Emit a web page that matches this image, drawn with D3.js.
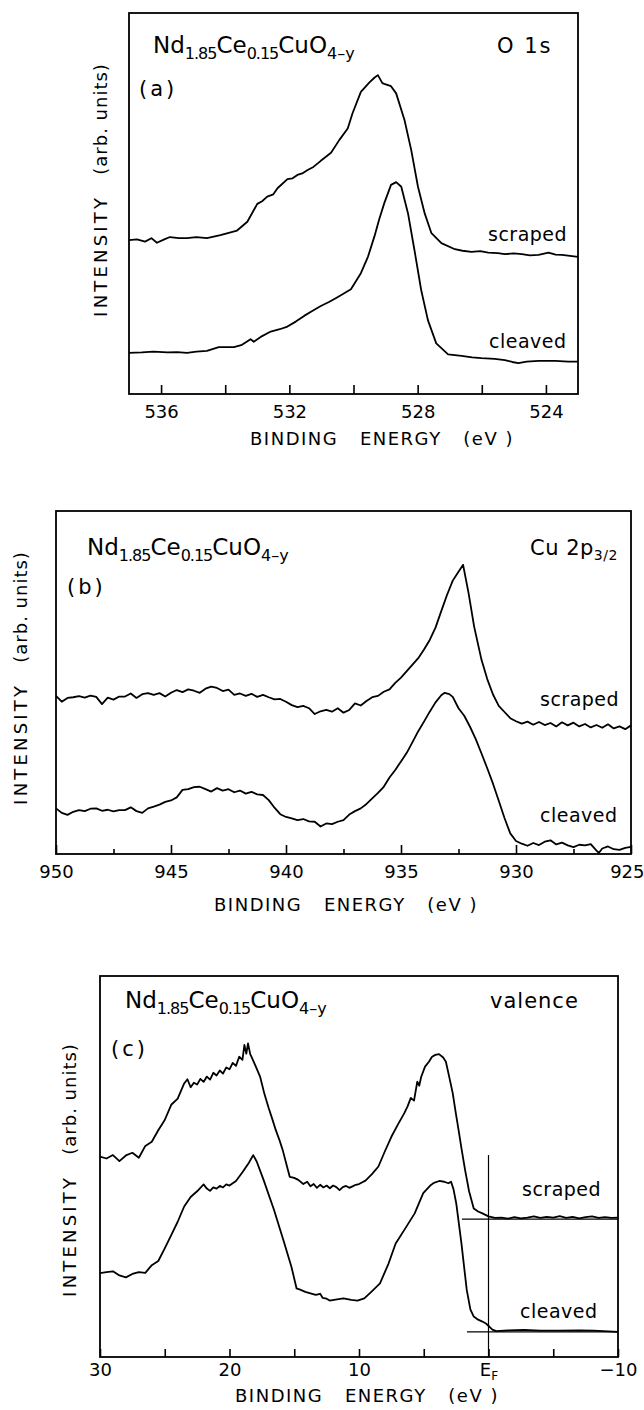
<!DOCTYPE html>
<html><head><meta charset="utf-8">
<script src="https://cdn.jsdelivr.net/npm/d3@7"></script>
<style>
body{margin:0;background:#fff}
text{font-family:"DejaVu Sans",sans-serif;fill:#000}
</style>
</head><body>
<svg id="chart" width="644" height="1410"></svg>
<script>
// ---------- DATA (binding energy eV, intensity arb. units) ----------
const aScraped = [[537,40.4],[536.75,40.6],[536.5,40.0],[536.3,40.9],[536.13,39.7],[535.9,40.6],[535.72,41.2],[535.45,40.9],[535.19,40.9],[534.9,41.2],[534.57,40.9],[534.15,41.7],[533.63,42.9],[533.31,45.2],[533.0,49.9],[532.85,50.6],[532.69,51.8],[532.5,52.4],[532.37,54.0],[532.06,56.4],[531.9,56.6],[531.75,57.5],[531.6,57.9],[531.43,58.8],[531.25,59.6],[531.02,61.2],[530.7,63.3],[530.44,66.7],[530.18,69.7],[530.03,73.7],[529.77,79.3],[529.51,81.7],[529.35,83.0],[529.24,83.7],[529.1,81.6],[529.04,81.4],[528.83,80.8],[528.67,78.9],[528.41,71.9],[528.2,64.0],[527.99,54.4],[527.78,47.4],[527.57,42.2],[527.26,39.6],[526.84,38.0],[526.6,37.6],[526.32,37.3],[526.05,37.5],[525.8,37.1],[525.5,37.0],[525.28,36.7],[525.0,36.9],[524.75,36.7],[524.5,36.4],[524.23,36.5],[523.92,37.1],[523.7,36.6],[523.5,36.5],[523.0,36.0]];
const aCleaved = [[537,10.8],[536.6,10.9],[536.24,11.1],[535.8,10.9],[535.5,11.0],[535.19,10.8],[534.9,11.1],[534.57,11.3],[534.2,12.3],[533.73,12.3],[533.5,12.8],[533.21,14.4],[533.11,13.7],[532.85,15.2],[532.58,16.4],[532.3,17.0],[532.06,17.7],[531.8,19.0],[531.54,20.5],[531.3,21.7],[531.02,23.1],[530.75,24.2],[530.5,25.4],[530.08,27.5],[529.77,31.7],[529.55,36.0],[529.35,41.3],[529.2,45.8],[529.04,50.1],[528.83,54.9],[528.67,55.6],[528.51,54.4],[528.3,47.4],[528.1,37.8],[527.89,27.3],[527.68,19.4],[527.42,13.3],[527.05,10.4],[526.63,10.0],[526.3,9.6],[526.01,9.4],[525.6,9.2],[525.28,8.9],[525.05,8.4],[524.86,8.1],[524.6,8.5],[524.23,8.7],[523.71,8.7],[523.3,8.5],[523.0,8.5]];

const bScraped = [[950,46.1],[949.75,44.4],[949.5,45.5],[949.25,45.7],[949,46.0],[948.75,45.6],[948.5,46.2],[948.25,45.8],[948,43.7],[947.75,45.6],[947.5,45.0],[947.25,45.9],[947,45.9],[946.75,46.8],[946.5,45.5],[946.25,46.6],[946,46.9],[945.75,46.4],[945.5,46.9],[945.25,45.9],[945,47.0],[944.75,47.8],[944.5,47.2],[944.25,48.0],[944,47.6],[943.75,47.0],[943.5,48.2],[943.25,48.8],[943,48.4],[942.75,47.5],[942.5,47.9],[942.25,46.4],[942,46.8],[941.75,46.1],[941.5,46.7],[941.25,45.8],[941,46.4],[940.75,45.7],[940.5,45.1],[940.25,45.2],[940,44.4],[939.75,43.4],[939.5,42.8],[939.25,43.2],[939,42.5],[938.75,40.8],[938.5,41.6],[938.25,42.0],[938,41.5],[937.75,42.5],[937.5,41.2],[937.25,42.0],[937,43.9],[936.75,43.3],[936.5,44.6],[936.25,45.7],[936,46.1],[935.75,47.3],[935.5,48.0],[935.25,49.9],[935,51.4],[934.75,53.3],[934.5,55.2],[934.25,57.1],[934,59.6],[933.75,62.4],[933.5,66.0],[933.25,70.8],[933,75.5],[932.75,79.7],[932.5,82.3],[932.3,84.3],[932.06,76.0],[931.82,66.3],[931.5,56.6],[931.25,51.0],[931,46.5],[930.75,43.2],[930.5,41.4],[930.25,39.6],[930,38.7],[929.75,38.0],[929.5,38.6],[929.25,37.7],[929,38.5],[928.75,37.6],[928.5,38.2],[928.25,37.2],[928,38.4],[927.75,37.5],[927.5,38.3],[927.25,37.2],[927,37.9],[926.75,36.9],[926.5,37.6],[926.25,36.8],[926,37.8],[925.75,36.6],[925.5,37.2],[925.25,36.4],[925,37.5]];
const bCleaved = [[950,13.3],[949.75,12.0],[949.5,11.4],[949.25,12.3],[949,12.8],[948.75,12.5],[948.5,13.2],[948.25,13.3],[948,12.6],[947.75,12.9],[947.5,12.4],[947.25,12.8],[947,12.8],[946.75,13.6],[946.5,12.5],[946.25,12.0],[946,13.3],[945.75,13.8],[945.5,14.4],[945.25,15.2],[945,15.6],[944.75,16.5],[944.5,18.7],[944.25,18.9],[944,19.5],[943.75,19.6],[943.5,18.9],[943.25,18.2],[943,19.2],[942.75,18.5],[942.5,18.9],[942.25,18.0],[942,18.5],[941.75,17.6],[941.5,18.1],[941.25,17.4],[941,17.2],[940.75,15.7],[940.5,13.5],[940.25,11.6],[940,10.8],[939.75,10.4],[939.5,9.9],[939.25,10.2],[939,9.5],[938.75,9.4],[938.5,8.0],[938.25,8.9],[938,8.7],[937.75,9.4],[937.5,9.9],[937.25,11.5],[937,12.5],[936.75,13.3],[936.5,14.6],[936.25,16.2],[936,17.8],[935.75,19.6],[935.5,22.3],[935.25,24.5],[935,27.0],[934.75,29.5],[934.5,32.6],[934.25,35.8],[934,38.6],[933.75,41.5],[933.5,44.2],[933.25,46.3],[933.1,47.0],[932.9,46.6],[932.75,45.8],[932.5,42.5],[932.25,40.3],[932,37.1],[931.75,33.5],[931.5,29.3],[931.25,25.0],[931,20.5],[930.75,15.5],[930.5,10.5],[930.25,6.0],[930,3.8],[929.75,3.0],[929.5,2.4],[929.25,3.2],[929,2.6],[928.75,3.6],[928.5,4.0],[928.25,2.8],[928,3.3],[927.75,2.5],[927.5,2.0],[927.25,2.7],[927,2.5],[926.75,2.9],[926.5,1.0],[926.4,0.3],[926.25,1.6],[926,2.2],[925.75,1.4],[925.5,1.2],[925.25,1.8],[925,2.1]];

const cScraped = [[30,52.6],[29.5,52.1],[29,53.0],[28.5,51.4],[28,52.9],[27.5,53.6],[27,52.3],[26.5,55.4],[26,56.5],[25.5,59.5],[25,62.2],[24.5,66.2],[24,67.8],[23.5,71.8],[23.25,72.9],[23,70.8],[22.75,72.0],[22.5,71.5],[22.25,73.0],[22,72.2],[21.75,73.6],[21.5,72.8],[21.25,74.6],[21,73.9],[20.75,75.2],[20.5,74.4],[20.25,76.0],[20,75.5],[19.75,77.2],[19.5,76.4],[19.25,78.8],[19,78.0],[18.85,81.9],[18.7,79.6],[18.57,82.3],[18.4,79.5],[18.3,78.8],[18,76.5],[17.64,73.6],[17.3,69.0],[16.97,65.3],[16.7,62.5],[16.43,59.6],[16.15,57.0],[15.89,54.3],[15.6,50.5],[15.35,47.3],[15,47.0],[14.69,46.5],[14.3,45.4],[14,46.0],[13.75,44.8],[13.5,45.4],[13.25,44.4],[13,45.2],[12.75,44.5],[12.5,45.0],[12.25,44.3],[12,45.0],[11.75,44.6],[11.5,43.8],[11.25,44.6],[11,44.9],[10.75,44.4],[10.5,44.8],[10.25,45.2],[10,45.4],[9.5,46.3],[9,48.0],[8.5,50.0],[8,54.0],[7.5,57.8],[7,61.0],[6.5,64.0],[6.25,65.8],[6,68.0],[5.75,67.3],[5.5,72.3],[5.35,71.2],[5.2,73.5],[4.9,76.2],[4.6,77.5],[4.36,78.8],[4.1,79.3],[3.82,79.5],[3.5,78.6],[3.29,77.5],[3,73.0],[2.76,69.2],[2.5,63.5],[2.35,60.4],[2.1,55.0],[1.81,49.1],[1.5,43.5],[1.14,39.0],[0.8,38.2],[0.47,37.7],[0,36.9],[-0.5,36.5],[-1,36.6],[-1.5,36.3],[-2,36.7],[-2.5,36.4],[-3,36.6],[-3.5,36.9],[-4,36.5],[-4.5,36.8],[-5,36.6],[-5.5,37.0],[-6,36.5],[-6.5,36.8],[-7,36.4],[-7.5,36.7],[-8,36.9],[-8.5,36.5],[-9,36.7],[-9.5,36.5],[-10,36.6]];
const cCleaved = [[30,22.0],[29.5,22.3],[29,22.5],[28.5,21.4],[28,20.9],[27.5,21.8],[27,22.3],[26.5,22.1],[26,24.1],[25.5,25.2],[25,28.5],[24.5,32.0],[24,35.5],[23.5,39.5],[23,42.0],[22.5,43.5],[22,45.3],[21.75,44.2],[21.5,43.6],[21.25,44.5],[21,44.2],[20.75,44.9],[20.5,44.5],[20.25,45.3],[20,45.0],[19.5,46.2],[19,48.5],[18.5,51.0],[18.17,53.0],[17.9,51.3],[17.37,46.5],[16.56,38.6],[15.76,29.8],[15.22,23.7],[14.82,18.0],[14.5,17.6],[14.15,17.1],[13.75,16.7],[13.34,16.3],[13,16.6],[12.8,15.5],[12.5,15.3],[12.27,14.8],[11.7,15.1],[11.2,15.4],[10.6,15.0],[10.12,14.8],[9.59,15.4],[9.05,17.1],[8.38,19.3],[7.71,24.6],[7.17,29.8],[6.51,33.3],[5.7,37.7],[5.04,43.0],[4.5,45.0],[4.22,45.7],[3.8,46.2],[3.42,46.0],[3.1,45.6],[2.89,46.0],[2.7,44.0],[2.49,40.3],[2.09,29.8],[1.68,17.6],[1.4,12.5],[1.14,10.6],[0.8,9.8],[0.47,9.3],[0.2,8.8],[-0.06,8.0],[-0.3,7.2],[-0.6,6.8],[-1.5,7.0],[-2.74,7.1],[-4,6.9],[-5.42,6.9],[-7,7.0],[-8.11,6.9],[-10,6.6]];

// reference lines in panel (c): Fermi level and baselines
const cFermi = {e:0, top:53};
const cBaselines = [{from:2.05, to:-10, v:36.2},{from:1.66, to:-10, v:6.6}];

// ticks
const aMajor = [536,532,528,524], aMinor = [534,530,526];
const bMajor = [950,945,940,935,930,925], bMinor = [947.5,942.5,937.5,932.5,927.5];
const cMajor = [30,20,10,0,-10], cMinor = [25,15,5,-5];

// ---------- DRAW ----------
const svg = d3.select('#chart');

function panel(cfg){
  const g = svg.append('g');
  const x = d3.scaleLinear().domain(cfg.xd).range([cfg.l, cfg.r]);
  const y = d3.scaleLinear().domain([0,100]).range([cfg.b, cfg.t]);
  const axm = g.append('g').attr('transform',`translate(0,${cfg.b})`)
    .call(d3.axisBottom(x).tickValues(cfg.minor).tickSize(-cfg.minLen).tickFormat(''));
  const axM = g.append('g').attr('transform',`translate(0,${cfg.b})`)
    .call(d3.axisBottom(x).tickValues(cfg.major).tickSize(-cfg.majLen).tickPadding(cfg.pad).tickFormat(cfg.fmt||d3.format('d')));
  [axm,axM].forEach(a=>{
    a.select('.domain').remove();
    a.selectAll('line').attr('stroke','#000').attr('stroke-width',1.6);
    a.attr('font-family',null).attr('font-size',null);
    a.selectAll('text').style('font-size','18px').attr('fill','#000');
  });
  if(cfg.after) cfg.after(axM);
  g.append('rect').attr('x',cfg.l).attr('y',cfg.t).attr('width',cfg.r-cfg.l).attr('height',cfg.b-cfg.t)
    .attr('fill','none').attr('stroke','#000').attr('stroke-width',1.8);
  const line = d3.line().x(d=>x(d[0])).y(d=>y(d[1]));
  cfg.series.forEach(s=>{
    g.append('path').datum(s).attr('d',line).attr('fill','none').attr('stroke','#000')
      .attr('stroke-width',1.8).attr('stroke-linejoin','round');
  });
  g.append('text').attr('x',cfg.tx).attr('y',cfg.ty).attr('text-anchor','middle')
    .style('white-space','pre').style('font-size','18px').style('letter-spacing','1.5px')
    .text('BINDING   ENERGY   (eV )');
  const yt = g.append('text').attr('transform',`translate(${cfg.yx},${cfg.yy}) rotate(-90)`)
    .attr('text-anchor','middle').attr('dy','0.35em').style('font-size','18px');
  yt.append('tspan').style('letter-spacing','3.2px').text('INTENSITY');
  yt.append('tspan').attr('dx',20).style('letter-spacing','1px').text('(arb. units)');
  const f = g.append('text').attr('x',cfg.fx).attr('y',cfg.fy).style('font-size','23px');
  f.append('tspan').text('Nd');
  f.append('tspan').attr('dy',6).style('font-size','16px').style('letter-spacing','-1px').text('1.85');
  f.append('tspan').attr('dy',-6).text('Ce');
  f.append('tspan').attr('dy',6).style('font-size','16px').style('letter-spacing','-1px').text('0.15');
  f.append('tspan').attr('dy',-6).text('CuO');
  f.append('tspan').attr('dy',6).style('font-size','16px').text('4–y');
  g.append('text').attr('x',cfg.px).attr('y',cfg.py).style('font-size','21px').style('letter-spacing','3px').text(cfg.letter);
  g.append('text').attr('x',cfg.sx).attr('y',cfg.sy).style('font-size','19px').style('letter-spacing','0.5px').text('scraped');
  g.append('text').attr('x',cfg.cx).attr('y',cfg.cy).style('font-size','19px').style('letter-spacing','0.5px').text('cleaved');
  return {g,x,y};
}

// (a)
const pa = panel({l:129,r:578,t:13,b:394,xd:[537,523],major:aMajor,minor:aMinor,majLen:9,minLen:9,pad:11,
  series:[aScraped,aCleaved],tx:382,ty:445,yx:101,yy:190,fx:153,fy:53,px:139,py:96,letter:'(a)',
  sx:488,sy:241,cx:489,cy:348});
pa.g.append('text').attr('x',497).attr('y',53).style('font-size','21px').style('letter-spacing','2px').text('O 1s');

// (b)
const pb = panel({l:56,r:631,t:511,b:854,xd:[950,925],major:bMajor,minor:bMinor,majLen:9,minLen:5,pad:11,
  series:[bScraped,bCleaved],tx:346,ty:911,yx:21,yy:678,fx:87,fy:555,px:67,py:594,letter:'(b)',
  sx:540,sy:706,cx:540,cy:822,
  after:ax=>{ ax.selectAll('.tick').filter(d=>d===925).select('text').attr('text-anchor','end').attr('x',13); }});
const cu = pb.g.append('text').attr('x',530).attr('y',555).style('font-size','21px').style('letter-spacing','0.5px');
cu.append('tspan').text('Cu 2p');
cu.append('tspan').attr('dy',5).style('font-size','14px').text('3/2');

// (c)
const pc = panel({l:100,r:618,t:976,b:1357,xd:[30,-10],major:cMajor,minor:cMinor,majLen:8,minLen:8,pad:6,
  series:[cScraped,cCleaved],tx:367,ty:1402,yx:70,yy:1170,fx:125,fy:1008,px:111,py:1056,letter:'(c)',
  sx:522,sy:1196,cx:520,cy:1318,
  fmt:d=> d===0 ? '' : (d<0 ? '−'+Math.abs(d) : d),
  after:ax=>{
    ax.selectAll('.tick').filter(d=>d===0).select('text').each(function(){
      const t=d3.select(this);
      t.append('tspan').text('E');
      t.append('tspan').attr('dy',4).style('font-size','12px').text('F');
    });
  }});
pc.g.append('text').attr('x',490).attr('y',1008).style('font-size','21px').style('letter-spacing','1px').text('valence');
pc.g.append('line').attr('x1',pc.x(cFermi.e)).attr('x2',pc.x(cFermi.e)).attr('y1',pc.y(cFermi.top)).attr('y2',pc.y(0))
  .attr('stroke','#000').attr('stroke-width',1.2);
cBaselines.forEach(b=>{
  pc.g.append('line').attr('x1',pc.x(b.from)).attr('x2',pc.x(b.to)).attr('y1',pc.y(b.v)).attr('y2',pc.y(b.v))
    .attr('stroke','#000').attr('stroke-width',1.2);
});
</script>
</body></html>
